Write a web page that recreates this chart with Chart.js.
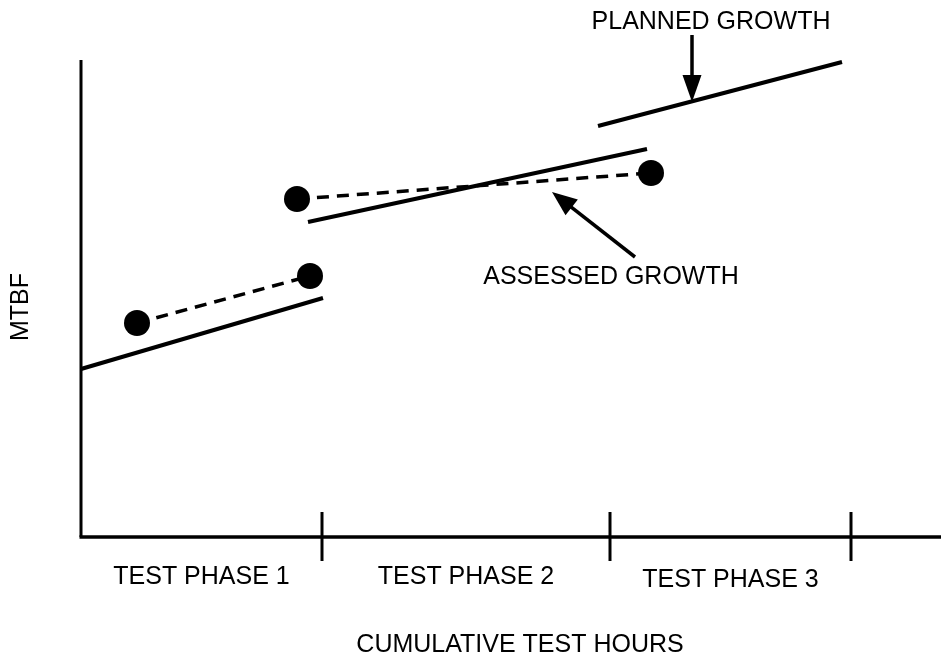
<!DOCTYPE html>
<html>
<head>
<meta charset="utf-8">
<script src="https://cdn.jsdelivr.net/npm/chart.js@4/dist/chart.umd.min.js"></script>
<style>
  html, body { margin: 0; padding: 0; background: #fff; }
  #growth { display: block; }
</style>
</head>
<body>
<canvas id="growth" width="941" height="657"></canvas>
<script>
// reliability growth sketch: planned vs assessed MTBF per test phase
const phaseBounds = [24.1, 52.9, 77.0];
const phaseLabels = ['TEST PHASE 1', 'TEST PHASE 2', 'TEST PHASE 3'];
const plannedX = [[0, 24.2], [22.7, 56.6], [51.7, 76.1]];
const plannedY = [[16.8, 23.9], [31.5, 38.8], [41.1, 47.5]];
const assessedX = [[5.6, 22.9], [21.6, 57.0]];
const assessedY = [[21.4, 26.1], [33.8, 36.4]];
const xTitle = 'CUMULATIVE TEST HOURS';
const yTitle = 'MTBF';

const FONT = '25px "Liberation Sans", Arial, Helvetica, sans-serif';
const INK = '#000';

function pts(xs, ys) { return xs.map((x, i) => ({ x, y: ys[i] })); }

const datasets = [];
assessedX.forEach((xs, i) => {
  datasets.push({
    label: 'Assessed ' + (i + 1), data: pts(xs, assessedY[i]), showLine: true,
    borderColor: INK, borderWidth: 3.5, borderDash: [12, 8],
    pointRadius: 13, pointBackgroundColor: INK, pointBorderWidth: 0, clip: false
  });
});
plannedX.forEach((xs, i) => {
  datasets.push({
    label: 'Planned ' + (i + 1), data: pts(xs, plannedY[i]), showLine: true,
    borderColor: INK, borderWidth: 4, pointRadius: 0, clip: false
  });
});

function arrow(ctx, x0, y0, x1, y1, len, wid) {
  const a = Math.atan2(y1 - y0, x1 - x0);
  ctx.beginPath(); ctx.moveTo(x0, y0);
  ctx.lineTo(x1 - Math.cos(a) * len * 0.8, y1 - Math.sin(a) * len * 0.8); ctx.stroke();
  ctx.beginPath(); ctx.moveTo(x1, y1);
  ctx.lineTo(x1 - Math.cos(a) * len + Math.sin(a) * wid / 2, y1 - Math.sin(a) * len - Math.cos(a) * wid / 2);
  ctx.lineTo(x1 - Math.cos(a) * len - Math.sin(a) * wid / 2, y1 - Math.sin(a) * len + Math.cos(a) * wid / 2);
  ctx.closePath(); ctx.fill();
}

const frame = {
  id: 'frame',
  beforeDatasetsDraw(chart) {
    const { ctx, chartArea: ca, scales: { x, y } } = chart;
    ctx.save();
    ctx.strokeStyle = INK; ctx.lineCap = 'butt';
    ctx.lineWidth = 3;
    ctx.beginPath(); ctx.moveTo(ca.left, ca.top); ctx.lineTo(ca.left, ca.bottom); ctx.stroke();
    ctx.lineWidth = 3.5;
    ctx.beginPath(); ctx.moveTo(ca.left - 1.5, ca.bottom); ctx.lineTo(ca.right, ca.bottom); ctx.stroke();
    ctx.lineWidth = 3;
    phaseBounds.forEach(b => {
      const px = x.getPixelForValue(b);
      ctx.beginPath(); ctx.moveTo(px, ca.bottom - 25); ctx.lineTo(px, ca.bottom + 24); ctx.stroke();
    });
    ctx.restore();
  },
  afterDatasetsDraw(chart) {
    const { ctx, chartArea: ca, scales: { x, y } } = chart;
    ctx.save();
    ctx.fillStyle = INK; ctx.strokeStyle = INK;
    ctx.font = FONT; ctx.textAlign = 'center'; ctx.textBaseline = 'middle';
    phaseLabels.forEach((t, i) => {
      const lo = i ? phaseBounds[i - 1] : 0;
      const cx = x.getPixelForValue((lo + phaseBounds[i]) / 2);
      ctx.fillText(t, cx, ca.bottom + 40 + (i === 2 ? 3 : 0));
    });
    ctx.fillText(xTitle, x.getPixelForValue(43.9), ca.bottom + 108);
    ctx.save();
    ctx.translate(21, y.getPixelForValue(23));
    ctx.rotate(-Math.PI / 2);
    ctx.fillText(yTitle, 0, 0);
    ctx.restore();

    // callouts
    ctx.fillText('PLANNED GROWTH', x.getPixelForValue(63), y.getPixelForValue(51.5));
    ctx.fillText('ASSESSED GROWTH', x.getPixelForValue(53), y.getPixelForValue(26));
    ctx.lineWidth = 3.5;
    arrow(ctx, x.getPixelForValue(61.1), y.getPixelForValue(50.2), x.getPixelForValue(61.1), y.getPixelForValue(43.5), 27, 19);
    arrow(ctx, x.getPixelForValue(55.4), y.getPixelForValue(28.0), x.getPixelForValue(47.1), y.getPixelForValue(34.5), 25, 20);
    ctx.restore();
  }
};

new Chart(document.getElementById('growth'), {
  type: 'scatter',
  data: { datasets },
  options: {
    responsive: false,
    devicePixelRatio: 1,
    animation: false,
    layout: { autoPadding: false, padding: { left: 81, top: 60, right: 0, bottom: 120 } },
    scales: {
      x: { type: 'linear', min: 0, max: 86, display: false },
      y: { type: 'linear', min: 0, max: 47.7, display: false }
    },
    plugins: { legend: { display: false }, tooltip: { enabled: false } }
  },
  plugins: [frame]
});
</script>
</body>
</html>
